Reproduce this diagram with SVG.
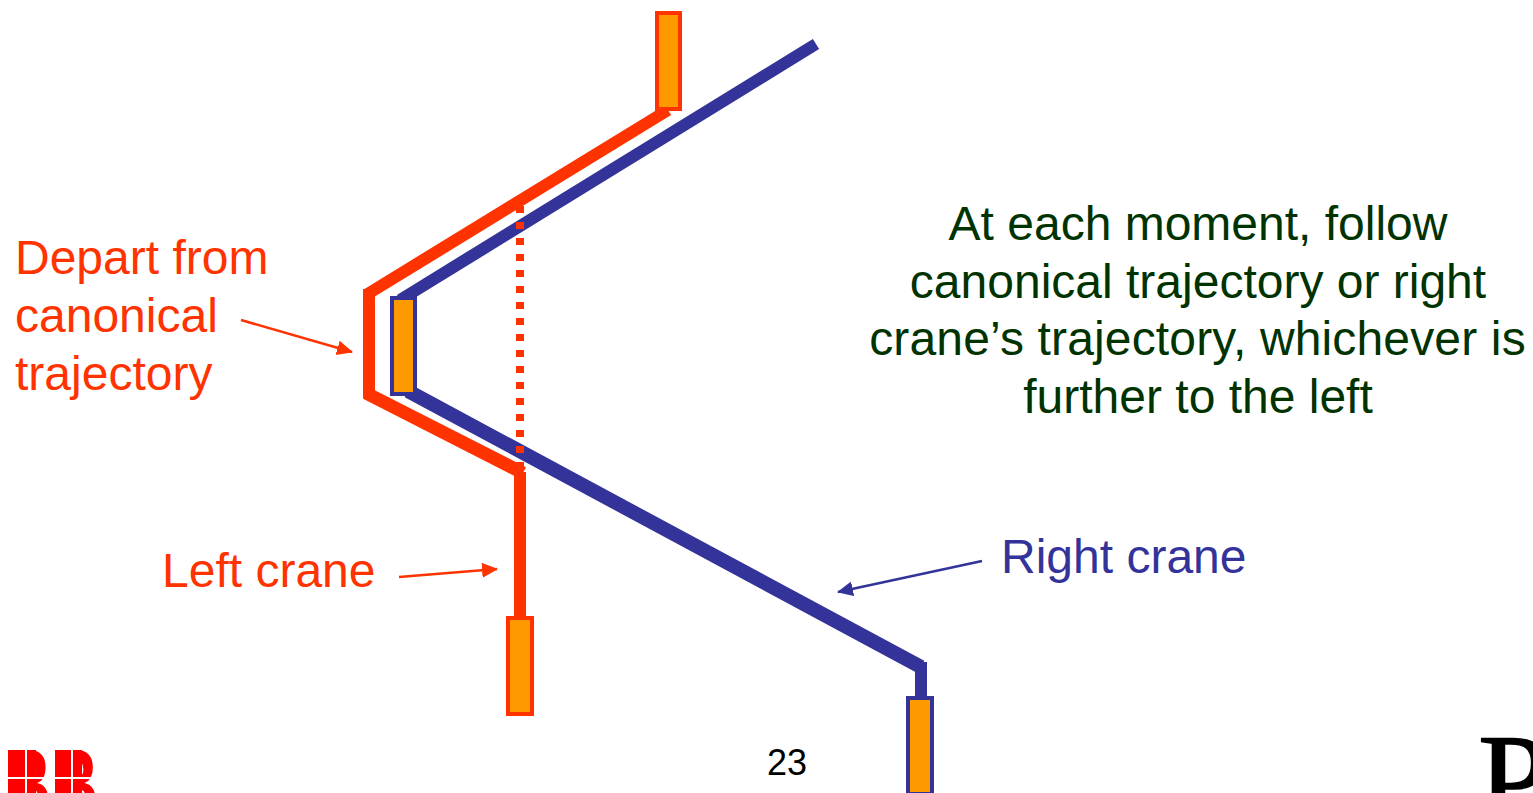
<svg xmlns="http://www.w3.org/2000/svg" width="1533" height="793" viewBox="0 0 1533 793">
<style>
text{font-family:"Liberation Sans",Arial,sans-serif;font-size:48px}
.r{fill:#FF3300}.b{fill:#333399}.g{fill:#003300;text-anchor:middle}
.lr{fill:none;stroke:#FF3300;stroke-width:12}
.lb{fill:none;stroke:#333399;stroke-width:12}
.cr{fill:#FF9900;stroke:#FF3300;stroke-width:4}
.cb{fill:#FF9900;stroke:#333399;stroke-width:4}
</style>
<defs>
<marker id="ar" markerWidth="16" markerHeight="16" refX="15" refY="8" orient="auto" markerUnits="userSpaceOnUse"><path d="M0 0.5L16 8L0 15.5Z" fill="#FF3300"/></marker>
<marker id="ab" markerWidth="16" markerHeight="16" refX="15" refY="8" orient="auto" markerUnits="userSpaceOnUse"><path d="M0 0.5L16 8L0 15.5Z" fill="#333399"/></marker>
</defs>
<g id="connectors">
<path class="lb" d="M816 44L400 300"/>
<path class="lb" style="stroke-width:14" d="M408 391L921 667"/>
<path class="lb" d="M921 662V698"/>
<path class="lr" d="M668 110L366 295"/>
<path class="lr" d="M369 289V398"/>
<path class="lr" style="stroke-width:13" d="M366 393L523 473"/>
<path class="lr" d="M520 472V618"/>
<path d="M520 206V470" fill="none" stroke="#FF3300" stroke-width="8" stroke-dasharray="7 9"/>
<path d="M241 320L352 352" fill="none" stroke="#FF3300" stroke-width="2.5" marker-end="url(#ar)"/>
<path d="M399 577L497 569" fill="none" stroke="#FF3300" stroke-width="2.5" marker-end="url(#ar)"/>
<path d="M982 561L838 592" fill="none" stroke="#333399" stroke-width="2.5" marker-end="url(#ab)"/>
</g>
<g id="crane-left-top"><rect class="cr" x="657" y="13" width="23" height="96"/></g>
<g id="crane-left-bottom"><rect class="cr" x="508" y="618" width="24" height="96"/></g>
<g id="crane-right-middle"><rect class="cb" x="392" y="298" width="23" height="96"/></g>
<g id="crane-right-bottom"><rect class="cb" x="908" y="698" width="24" height="96"/></g>
<g id="label-depart"><text class="r" x="15" y="274">Depart from</text><text class="r" x="15" y="332">canonical</text><text class="r" x="15" y="390">trajectory</text></g>
<g id="label-left"><text class="r" x="162" y="587">Left crane</text></g>
<g id="label-right"><text class="b" x="1001" y="573">Right crane</text></g>
<g id="label-note">
<text class="g" x="1198" y="240">At each moment, follow</text>
<text class="g" x="1198" y="298">canonical trajectory or right</text>
<text class="g" x="1197.5" y="355" style="letter-spacing:.15px">crane’s trajectory, whichever is</text>
<text class="g" x="1198" y="413">further to the left</text>
</g>
<g id="page-number"><text x="787" y="775" text-anchor="middle" style="font-size:36px" fill="#000">23</text></g>
<g id="logo-abb">
<rect x="8" y="750" width="28" height="43" fill="#FF0000"/>
<rect x="55" y="750" width="27" height="43" fill="#FF0000"/>
<text transform="translate(4 819) scale(0.68 1.04)" style="font-size:96px;font-weight:bold" fill="#FF0000">BB</text>
<path d="M26 745V793M72 745V793M0 778H110" stroke="#fff" stroke-width="2" fill="none"/>
</g>
<g id="logo-p"><text x="1478" y="822" style="font-family:'Liberation Serif',serif;font-size:128px" fill="#000" stroke="#000" stroke-width="1.5">P</text></g>
</svg>
